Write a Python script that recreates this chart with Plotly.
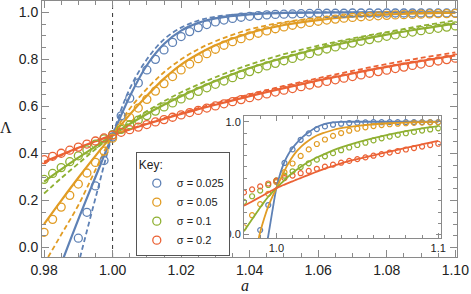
import plotly.graph_objects as go

# ---------------- data ----------------
sigma_labels = ["σ = 0.025", "σ = 0.05", "σ = 0.1", "σ = 0.2"]
colors = ["#5E81B5", "#E19C24", "#8FB032", "#EB6235"]

# sampling grid of the simulation points (step 0.0025)
a_circles = [round(0.98 + 0.0025 * i, 4) for i in range(49)]

# simulation points (open circles); blue starts at a = 0.99
circ_blue = [0.04, 0.15, 0.262, 0.37, 0.47, 0.56, 0.635, 0.70, 0.755, 0.80, 0.84, 0.872,
             0.897, 0.918, 0.935, 0.948, 0.959, 0.967, 0.974, 0.979, 0.983, 0.986, 0.989,
             0.991, 0.992, 0.993, 0.994, 0.995, 0.996, 0.996, 0.996, 0.996, 0.997, 0.997,
             0.997, 0.997, 0.997, 0.997, 0.997, 0.997, 0.997, 0.997, 0.997, 0.997, 0.997]
circ_orange = [0.065, 0.12, 0.172, 0.222, 0.27, 0.317, 0.362, 0.41, 0.465, 0.51, 0.553,
               0.593, 0.63, 0.665, 0.697, 0.727, 0.755, 0.78, 0.803, 0.824, 0.843, 0.86,
               0.875, 0.888, 0.9, 0.911, 0.921, 0.93, 0.938, 0.945, 0.951, 0.957, 0.962,
               0.967, 0.971, 0.975, 0.978, 0.981, 0.983, 0.985, 0.987, 0.989, 0.99, 0.991,
               0.992, 0.993, 0.994, 0.994, 0.995]
circ_green = [0.29, 0.315, 0.34, 0.365, 0.39, 0.415, 0.44, 0.462, 0.48, 0.502, 0.522, 0.542,
              0.561, 0.58, 0.598, 0.615, 0.632, 0.648, 0.664, 0.679, 0.694, 0.708, 0.722,
              0.735, 0.748, 0.76, 0.772, 0.783, 0.794, 0.804, 0.814, 0.824, 0.835, 0.844,
              0.853, 0.861, 0.869, 0.877, 0.884, 0.891, 0.898, 0.904, 0.91, 0.916, 0.922,
              0.927, 0.932, 0.937, 0.942]
circ_red = [0.374, 0.388, 0.401, 0.414, 0.427, 0.44, 0.453, 0.466, 0.478, 0.49, 0.501, 0.512,
            0.523, 0.534, 0.544, 0.554, 0.564, 0.574, 0.583, 0.593, 0.602, 0.611, 0.62, 0.629,
            0.637, 0.645, 0.653, 0.661, 0.669, 0.676, 0.684, 0.691, 0.699, 0.706, 0.713,
            0.72, 0.727, 0.734, 0.741, 0.748, 0.754, 0.761, 0.767, 0.774, 0.78, 0.787,
            0.793, 0.799, 0.805]

# theory curves (main panel)
a_lines = [0.98, 0.985, 0.99, 0.995, 1.0, 1.005, 1.01, 1.015, 1.02, 1.025, 1.03,
           1.04, 1.05, 1.06, 1.07, 1.08, 1.09, 1.1]
solid_blue = [-0.27, -0.07, 0.12, 0.30, 0.478, 0.642, 0.775, 0.865, 0.922, 0.955, 0.974,
              0.991, 0.997, 0.999, 1.0, 1.0, 1.0, 1.0]
solid_orange = [0.10, 0.20, 0.297, 0.39, 0.478, 0.565, 0.645, 0.718, 0.778, 0.823, 0.86,
                0.912, 0.946, 0.967, 0.981, 0.99, 0.995, 0.998]
solid_green = [0.28, 0.332, 0.382, 0.43, 0.478, 0.525, 0.568, 0.607, 0.643, 0.677, 0.708,
               0.763, 0.807, 0.845, 0.877, 0.905, 0.93, 0.952]
solid_red = [0.365, 0.395, 0.424, 0.452, 0.478, 0.502, 0.525, 0.547, 0.568, 0.588, 0.607,
             0.644, 0.678, 0.71, 0.74, 0.768, 0.793, 0.817]
dash_blue = [-0.6, -0.35, -0.07, 0.21, 0.478, 0.675, 0.80, 0.885, 0.935, 0.965, 0.981,
             0.995, 0.999, 1.0, 1.0, 1.0, 1.0, 1.0]
dash_orange = [-0.07, 0.055, 0.18, 0.33, 0.478, 0.59, 0.675, 0.745, 0.80, 0.843, 0.877,
               0.927, 0.958, 0.976, 0.987, 0.993, 0.997, 0.999]
dash_green = [0.23, 0.295, 0.357, 0.418, 0.478, 0.532, 0.58, 0.622, 0.66, 0.693, 0.724,
              0.778, 0.822, 0.858, 0.889, 0.916, 0.942, 0.965]
dash_red = [0.36, 0.392, 0.423, 0.451, 0.478, 0.503, 0.527, 0.55, 0.572, 0.593, 0.613,
            0.651, 0.687, 0.72, 0.751, 0.78, 0.806, 0.83]

# inset curves
a_inset = [0.98, 0.985, 0.99, 0.9925, 0.995, 0.9975, 1.0, 1.0025, 1.005, 1.0075, 1.01,
           1.0125, 1.015, 1.0175, 1.02, 1.025, 1.03, 1.035, 1.04, 1.05, 1.06, 1.07,
           1.08, 1.09, 1.1]
inset_blue = [-1.0, -0.75, -0.4, -0.21, -0.01, 0.205, 0.41, 0.545, 0.645, 0.715, 0.767,
              0.81, 0.848, 0.88, 0.908, 0.953, 0.981, 0.994, 0.999, 1.0, 1.0, 1.0, 1.0,
              1.0, 1.0]
inset_orange = [-0.6, -0.3, 0.02, 0.145, 0.25, 0.335, 0.41, 0.49, 0.565, 0.633, 0.69,
                0.737, 0.775, 0.807, 0.835, 0.878, 0.905, 0.927, 0.943, 0.963, 0.978,
                0.987, 0.993, 0.997, 0.999]
inset_green = [0.03, 0.135, 0.24, 0.29, 0.335, 0.375, 0.412, 0.448, 0.483, 0.516, 0.548,
               0.575, 0.6, 0.623, 0.645, 0.683, 0.716, 0.746, 0.773, 0.818, 0.856, 0.889,
               0.918, 0.942, 0.962]
inset_red = [0.255, 0.294, 0.333, 0.353, 0.373, 0.393, 0.412, 0.428, 0.443, 0.458, 0.472,
             0.487, 0.501, 0.516, 0.53, 0.558, 0.585, 0.607, 0.632, 0.669, 0.703, 0.736,
             0.768, 0.80, 0.83]

main_xticks = [0.98, 1.00, 1.02, 1.04, 1.06, 1.08, 1.10]
main_yticks = [0.0, 0.2, 0.4, 0.6, 0.8, 1.0]
inset_xticks = [1.0, 1.1]
inset_yticks = [0.0, 1.0]

# ---------------- figure ----------------
circ_x = [a_circles[4:], a_circles, a_circles, a_circles]
circ_y = [circ_blue, circ_orange, circ_green, circ_red]
solids = [solid_blue, solid_orange, solid_green, solid_red]
dashes = [dash_blue, dash_orange, dash_green, dash_red]
insets = [inset_blue, inset_orange, inset_green, inset_red]

fig = go.Figure()

for i in range(4):
    fig.add_trace(go.Scatter(x=a_lines, y=solids[i], mode="lines",
                             line=dict(color=colors[i], width=2.2, shape="spline"),
                             showlegend=False, hoverinfo="skip"))
    fig.add_trace(go.Scatter(x=a_lines, y=dashes[i], mode="lines",
                             line=dict(color=colors[i], width=1.8, dash="5px,3px", shape="spline"),
                             showlegend=False, hoverinfo="skip"))
for i in range(4):
    fig.add_trace(go.Scatter(x=circ_x[i], y=circ_y[i], mode="markers", name=sigma_labels[i],
                             marker=dict(symbol="circle-open", size=8, color=colors[i],
                                         line=dict(width=1.3, color=colors[i]))))

# inset
for i in range(4):
    fig.add_trace(go.Scatter(x=circ_x[i][::2], y=circ_y[i][::2], mode="markers",
                             marker=dict(symbol="circle-open", size=5, color=colors[i],
                                         line=dict(width=1.2, color=colors[i])),
                             xaxis="x2", yaxis="y2", showlegend=False, hoverinfo="skip"))
for i in range(4):
    fig.add_trace(go.Scatter(x=a_inset, y=insets[i], mode="lines",
                             line=dict(color=colors[i], width=1.8, shape="spline"),
                             xaxis="x2", yaxis="y2", showlegend=False, hoverinfo="skip"))

frame = "#8a8a8a"
lab = "#222222"
sans = "Liberation Sans, Arial, sans-serif"

def axis_common(size, ticklen):
    return dict(showline=True, linecolor=frame, linewidth=1, mirror="ticks",
                ticks="inside", ticklen=ticklen, tickcolor=frame, tickwidth=1,
                showgrid=False, zeroline=False,
                tickfont=dict(family=sans, size=size, color=lab))

fig.update_layout(
    width=471, height=294,
    margin=dict(l=42, r=14, t=1, b=37),
    paper_bgcolor="white", plot_bgcolor="white",
    showlegend=True,
    legend=dict(x=0.226, y=0.41, xanchor="left", yanchor="top",
                bgcolor="white", bordercolor="#555", borderwidth=1,
                title=dict(text="Key:", font=dict(family=sans, size=12, color=lab)),
                font=dict(family=sans, size=11, color=lab),
                itemwidth=30, tracegroupgap=0),
    xaxis=dict(domain=[0, 1], range=[0.9794, 1.1005], tickvals=main_xticks, tickformat=".2f",
               minor=dict(tick0=0.98, dtick=0.005, ticks="inside", ticklen=4, tickcolor=frame),
               **axis_common(14, 7)),
    yaxis=dict(domain=[0, 1], range=[-0.04, 1.048], tickvals=main_yticks, tickformat=".1f",
               minor=dict(tick0=0, dtick=0.05, ticks="inside", ticklen=4, tickcolor=frame),
               **axis_common(14, 7)),
    xaxis2=dict(domain=[0.4867, 0.9607], anchor="y2", range=[0.98, 1.1015],
                tickvals=inset_xticks, tickformat=".1f",
                minor=dict(tick0=0.98, dtick=0.01, ticks="inside", ticklen=3, tickcolor=frame),
                **axis_common(11, 5)),
    yaxis2=dict(domain=[0.0743, 0.5503], anchor="x2", range=[-0.03, 1.05],
                tickvals=inset_yticks, tickformat=".1f",
                minor=dict(tick0=0, dtick=0.1, ticks="inside", ticklen=3, tickcolor=frame),
                **axis_common(11, 5)),
    shapes=[
        dict(type="rect", xref="x2", yref="y2", x0=0.98, x1=1.1015, y0=-0.03, y1=1.05,
             fillcolor="white", line=dict(width=0), layer="below"),
        dict(type="line", xref="x", yref="y domain", x0=1.0, x1=1.0, y0=0, y1=1,
             line=dict(color="#333", width=1, dash="4px,4px"), layer="below"),
        dict(type="line", xref="x2", yref="y2 domain", x0=1.0, x1=1.0, y0=0, y1=1,
             line=dict(color="#333", width=1, dash="2px,2px"), layer="below"),
    ],
    annotations=[
        dict(text="Λ", xref="paper", yref="paper", x=-0.087, y=0.504, showarrow=False,
             xanchor="center", yanchor="middle",
             font=dict(family="Liberation Serif, Times New Roman, serif", size=16, color=lab)),
        dict(text="<i>a</i>", xref="paper", yref="paper", x=0.489, y=-0.14, showarrow=False,
             xanchor="center", yanchor="bottom", borderpad=0, height=14, valign="middle",
             font=dict(family="Liberation Serif, Times New Roman, serif", size=16, color=lab)),
    ],
)

fig.write_html("out.html", config={"displayModeBar": False},
               post_script="document.body.style.margin='0';document.body.style.padding='0';")
